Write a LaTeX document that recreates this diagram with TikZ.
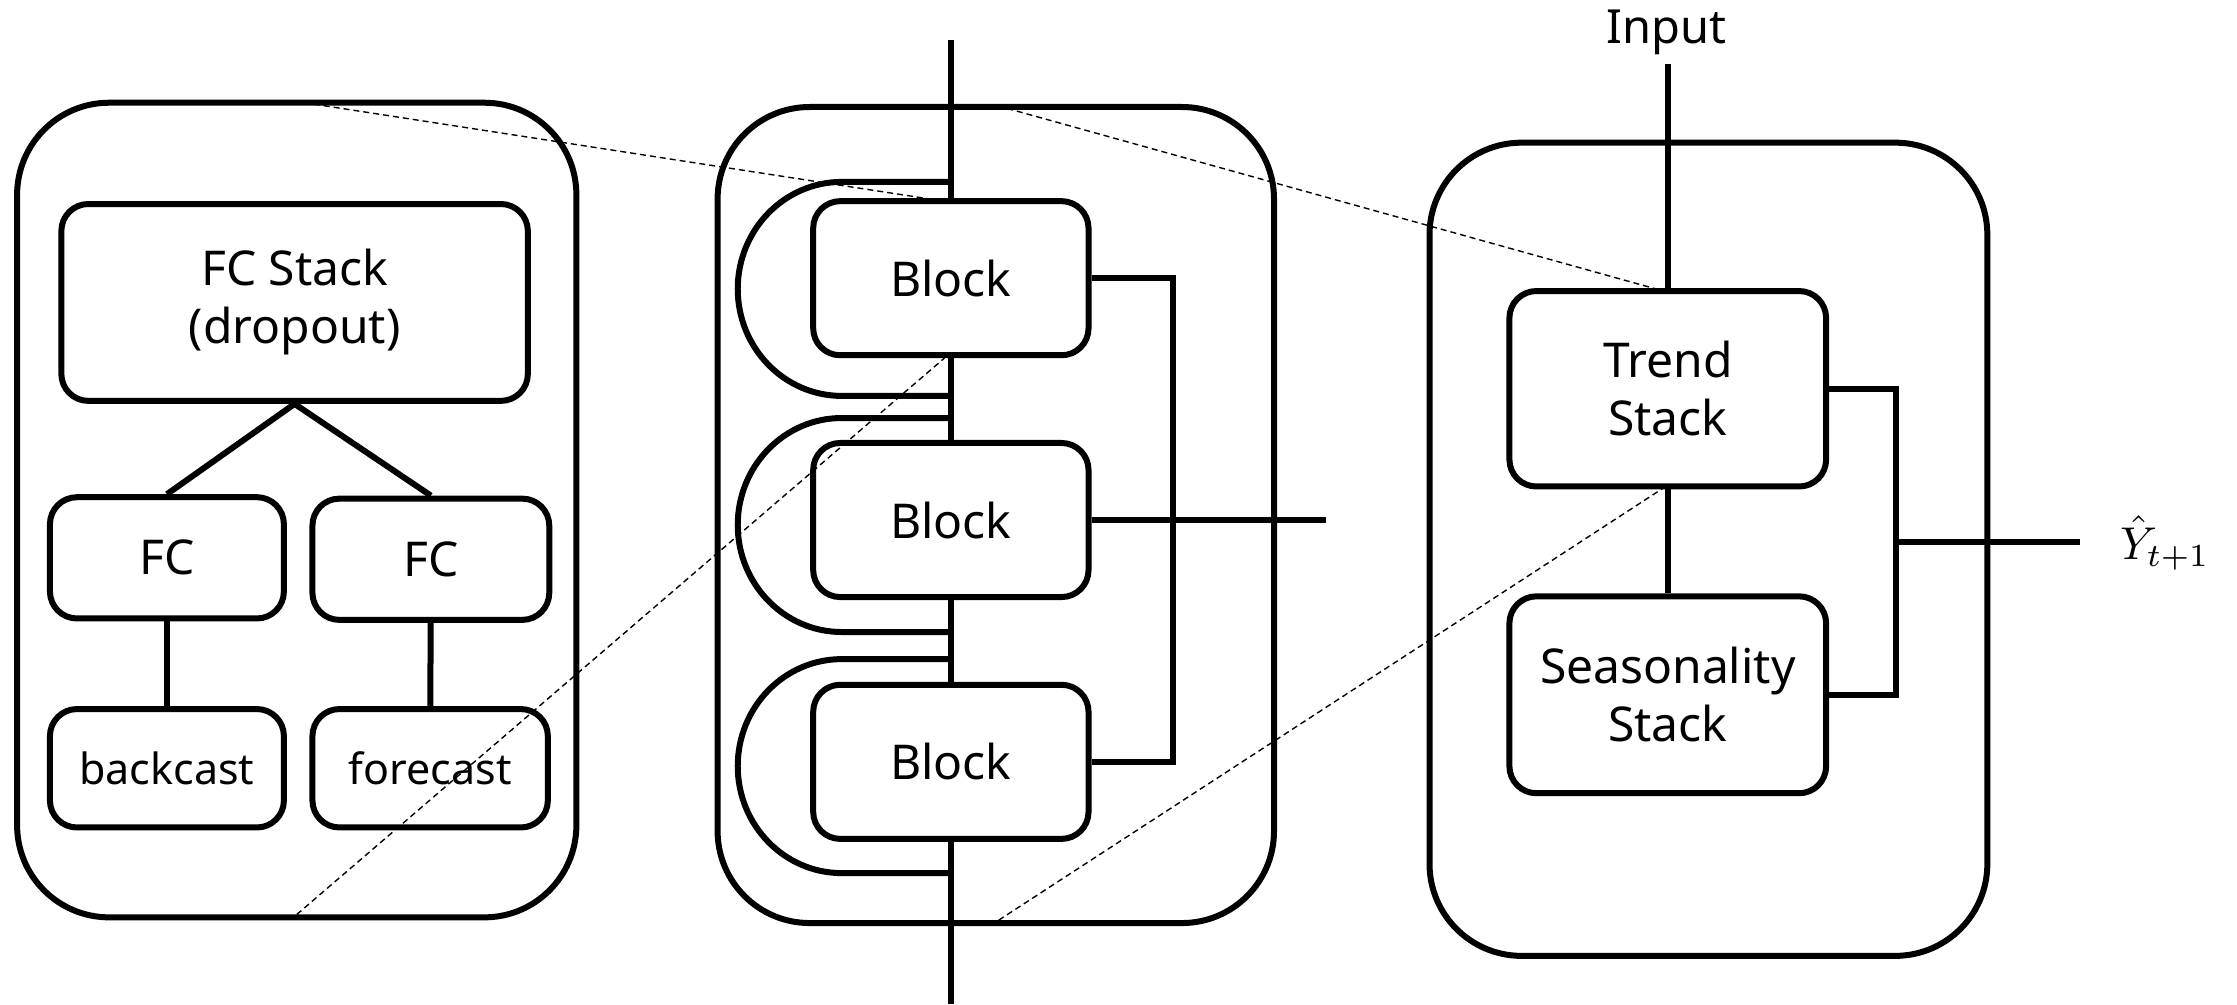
\documentclass[tikz,border=0pt]{standalone}
\usepackage{fontspec}
\setmainfont{Noto Sans}
\begin{document}
\begin{tikzpicture}[x=1.42666pt,y=-1.42666pt, line width=6pt,
  rb/.style={draw, rounded corners=27pt, inner sep=0pt, align=center, font=\fontsize{48}{58}\selectfont},
  panel/.style={draw, rounded corners=92pt, inner sep=0pt},
  sz/.style 2 args={minimum width=#1*1.42666pt, minimum height=#2*1.42666pt},
  guide/.style={line width=1.4pt, dash pattern=on 6pt off 4pt},
  small/.style={font=\fontsize{43}{52}\selectfont}]
\useasboundingbox (0,0) rectangle (1568,704);

% ---------- left panel ----------
\node[panel, sz={392}{571}] (oL) at (208,357.5) {};
\node[rb, sz={327}{138}] (fcs) at (206.5,212) {FC Stack\\(dropout)};
\node[rb, sz={164}{85}] (fc1) at (117,391) {FC};
\node[rb, sz={166}{85}] (fc2) at (302,392) {FC};
\node[rb, small, sz={164}{83}] (bc) at (117,538.5) {backcast};
\node[rb, small, sz={165}{83}] (fcast) at (301.5,538.5) {forecast};
\draw (fcs.south) -- (fc1.north);
\draw (fcs.south) -- (fc2.north);
\draw (fc1) -- (bc);
\draw (fc2) -- (fcast);

% ---------- middle panel ----------
\node[panel, sz={390}{572}] (oM) at (698,361) {};
\node[rb, sz={193}{108}] (b1) at (666.5,195) {Block};
\node[rb, sz={193}{108}] (b2) at (666.5,364.5) {Block};
\node[rb, sz={193}{108}] (b3) at (666.5,534) {Block};
\coordinate (inM) at (666.5,28);
\coordinate (outM) at (666.5,704);
\draw (inM) -- (b1.north);
\draw (b1.south) -- (b2.north);
\draw (b2.south) -- (b3.north);
\draw (b3.south) -- (outM);
% residual loops
\coordinate (l1a) at (666.5,127.5); \coordinate (l1b) at (666.5,277.5);
\coordinate (l2a) at (666.5,293);   \coordinate (l2b) at (666.5,443);
\coordinate (l3a) at (666.5,462);   \coordinate (l3b) at (666.5,612);
\draw (l1a) -- (590,127.5) arc[start angle=90, end angle=270, x radius=104pt, y radius=107pt] -- (l1b);
\draw (l2a) -- (590,293) arc[start angle=90, end angle=270, x radius=104pt, y radius=107pt] -- (l2b);
\draw (l3a) -- (590,462) arc[start angle=90, end angle=270, x radius=104pt, y radius=107pt] -- (l3b);
% output bus
\coordinate (busMt) at (822,195);
\coordinate (busMb) at (822,534);
\coordinate (outB) at (929.5,364.5);
\draw (b1.east) -- (busMt) -- (busMb) -- (b3.east);
\draw (b2.east) -- (outB);

% ---------- right panel ----------
\node[panel, sz={391}{570}] (oR) at (1197.5,385) {};
\node[rb, sz={222}{137}] (tr) at (1169,272.5) {Trend\\Stack};
\node[rb, sz={222}{138}] (se) at (1169,487) {Seasonality\\Stack};
\node[font=\fontsize{47}{56}\selectfont, anchor=base, inner sep=0pt] (inp) at (1168,30.5) {Input};
\coordinate (inTop) at (1169,45);
\draw (inTop) -- (tr.north);
\draw (tr) -- (se);
\coordinate (busRt) at (1329,272.5);
\coordinate (busRb) at (1329,487);
\draw (tr.east) -- (busRt) -- (busRb) -- (se.east);
\coordinate (oj) at (1329,380);
\coordinate (oe) at (1458,380);
\draw (oj) -- (oe);
\node[anchor=base west, inner sep=0pt] (yh) at (1484,392) {\scalebox{4.6}{$\hat{Y}_{t+1}$}};

% ---------- zoom guides ----------
\coordinate (g1a) at (220,73);  \coordinate (g1b) at (655,140);
\coordinate (g2a) at (208,641); \coordinate (g2b) at (662,251);
\coordinate (g3a) at (706,76);  \coordinate (g3b) at (1166,204);
\coordinate (g4a) at (700,645); \coordinate (g4b) at (1166,342);
\draw[guide] (g1a) -- (g1b);
\draw[guide] (g2a) -- (g2b);
\draw[guide] (g3a) -- (g3b);
\draw[guide] (g4a) -- (g4b);
\end{tikzpicture}
\end{document}
